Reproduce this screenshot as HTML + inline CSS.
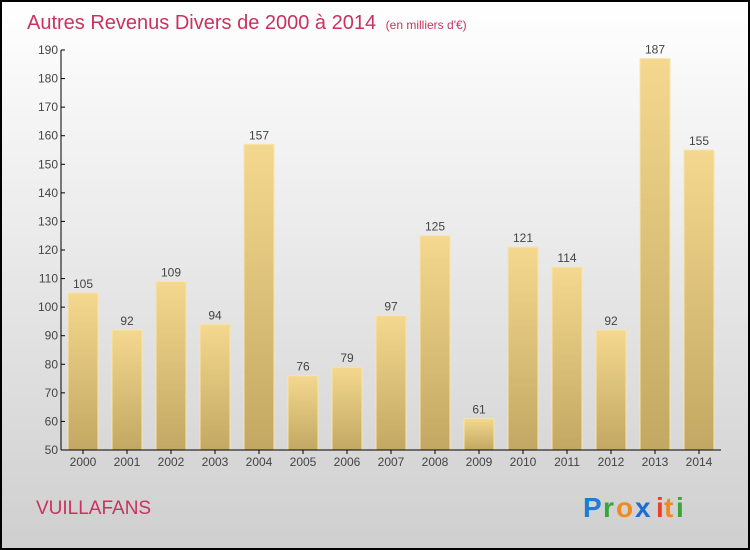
<!DOCTYPE html>
<html><head><meta charset="utf-8"><style>
body{margin:0;}
#c{width:750px;height:550px;position:relative;overflow:hidden;}
svg text{font-family:"Liberation Sans",sans-serif;}
</style></head><body>
<div id="c">
<svg id="s" width="750" height="550" viewBox="0 0 750 550">
<defs>
<linearGradient id="bg" x1="0" y1="0" x2="0" y2="1"><stop offset="0" stop-color="#ffffff"/><stop offset="1" stop-color="#cfcfcf"/></linearGradient>
<linearGradient id="bar" x1="0" y1="0" x2="0" y2="1"><stop offset="0" stop-color="#f4d88f"/><stop offset="1" stop-color="#c2a862"/></linearGradient>
</defs>
<rect x="1" y="1" width="748" height="548" fill="url(#bg)" stroke="#000" stroke-width="2"/>
<text x="27" y="29" font-size="20" fill="#c8325f">Autres Revenus Divers de 2000 à 2014 <tspan font-size="12" dx="4">(en milliers d'€)</tspan></text>
<g id="plot"></g>
<text x="36" y="514" font-size="19" fill="#c8325f">VUILLAFANS</text>
<g font-size="28" font-weight="bold">
<text x="583" y="517" fill="#1a7fd4">P</text><text x="603" y="517" fill="#3aa53a">r</text><text x="616" y="517" fill="#f08a1c">o</text><text x="635" y="517" fill="#1a6fd0">x</text><text x="656" y="517" fill="#e8402a">i</text><text x="664" y="517" fill="#f08a1c">t</text><text x="676" y="517" fill="#3aa53a">i</text>
</g>
</svg></div>
<script>
const categories=["2000","2001","2002","2003","2004","2005","2006","2007","2008","2009","2010","2011","2012","2013","2014"];
const values=[105,92,109,94,157,76,79,97,125,61,121,114,92,187,155];
const ticks=[50,60,70,80,90,100,110,120,130,140,150,160,170,180,190];
const NS="http://www.w3.org/2000/svg";
const g=document.getElementById('plot');
const x0=61,x1=721,yTop=50,yBot=450,vmin=50,vmax=190;
const y=v=>yBot-(v-vmin)/(vmax-vmin)*(yBot-yTop);
const step=(x1-x0)/categories.length;
const xc=i=>x0+step*(i+0.5);
function mk(t,a){const e=document.createElementNS(NS,t);for(const k in a)e.setAttribute(k,a[k]);g.appendChild(e);return e;}
values.forEach((v,i)=>{
 const r=mk('rect',{x:xc(i)-15,y:y(v),width:30,height:yBot-y(v),fill:'url(#bar)',stroke:'#f6e4b0','stroke-width':1});
 
 
 const t=mk('text',{x:xc(i),y:y(v)-5,'font-size':12,fill:'#444','text-anchor':'middle'});
 t.textContent=v;
 
 
 const l=mk('text',{x:xc(i),y:466,'font-size':12,fill:'#444','text-anchor':'middle'});
 l.textContent=categories[i];
 
 
 mk('line',{x1:xc(i),x2:xc(i),y1:yBot,y2:yBot+4,stroke:'#000'});
});
ticks.forEach(v=>{
 mk('line',{x1:x0,x2:x0+4,y1:y(v),y2:y(v),stroke:'#000'});
 const t=mk('text',{x:x0-3,y:y(v)+4,'font-size':12,fill:'#444','text-anchor':'end'});
 t.textContent=v;
 
 
});
const ya=mk('line',{x1:x0,x2:x0,y1:yTop,y2:yBot,stroke:'#000'});


const xa=mk('line',{x1:x0,x2:x1,y1:yBot,y2:yBot,stroke:'#000'});


</script>
</body></html>
